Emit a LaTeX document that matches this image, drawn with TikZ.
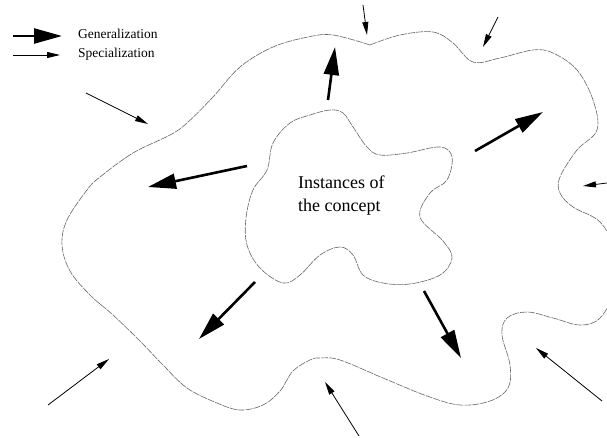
\documentclass[tikz,border=0pt]{standalone}
\usepackage{fontspec}
\setmainfont{Liberation Serif}
\usetikzlibrary{arrows.meta}
\tikzset{
  genarrow/.style={line width=2.6pt, -{Triangle[length=28pt,width=15pt]}},
  specarrow/.style={line width=0.8pt, -{Triangle[length=13pt,width=6pt]}},
  blob/.style={draw=black!60, line width=0.6pt, dash pattern=on 7pt off 1pt},
  legendtext/.style={anchor=west, font=\fontsize{13.5}{15}\selectfont, inner sep=0pt},
}
\begin{document}
\begin{tikzpicture}[x=1pt,y=-1pt]
\useasboundingbox (0,0) rectangle (607,438);
\clip (0,0) rectangle (607,438);
% outer region
\draw[blob] plot[smooth, tension=0.6] coordinates {
(370,45) (400,35) (433,32) (453,43) (473,62) (500,58) (533,50) (553,53)
(577,70) (593,100) (597,130) (577,150) (560,177) (560,193) (573,207)
(600,222) (614,250) (614,290) (600,318) (580,325) (553,318) (527,312)
(507,318) (502,335) (510,365) (508,388) (490,401) (460,405) (427,396)
(383,378) (340,360) (320,358) (310,360) (293,371) (280,391) (263,405)
(240,410) (217,403) (187,388) (163,365) (140,341) (113,315) (90,295)
(70,271) (62,245) (67,220) (87,190) (100,177) (133,153) (170,135)
(187,123) (213,97) (240,67) (273,47) (308,37) (333,35) (370,45)};
% inner region
\draw[blob] plot[smooth cycle, tension=0.6] coordinates {
(330,110) (343,113) (353,127) (367,147) (380,155) (407,153) (440,147)
(452,157) (447,180) (430,193) (420,217) (443,241) (452,258) (440,275)
(410,284) (383,283) (363,275) (353,255) (340,247) (320,255) (300,275)
(283,283) (260,268) (247,245) (246,218) (253,190) (267,170) (273,143)
(290,123) (310,115)};
\node[anchor=west, align=left, inner sep=0pt, font=\fontsize{18}{23}\selectfont] (txt) at (298,196) {Instances of\\the concept};
% legend
\coordinate (lg1) at (13,36); \coordinate (lg2) at (62,36);
\coordinate (ls1) at (13,55); \coordinate (ls2) at (60,55);
\draw[genarrow] (lg1) -- (lg2);
\draw[specarrow] (ls1) -- (ls2);
\node[legendtext] (lgt) at (78,34) {Generalization};
\node[legendtext] (lst) at (78,54) {Specialization};
% generalization arrows
\coordinate (g1a) at (328,100); \coordinate (g1b) at (335,47);
\coordinate (g2a) at (247,166); \coordinate (g2b) at (148,187);
\coordinate (g3a) at (475,151); \coordinate (g3b) at (543,112);
\coordinate (g4a) at (255,282); \coordinate (g4b) at (199,339);
\coordinate (g5a) at (424,291); \coordinate (g5b) at (461,358);
\draw[genarrow] (g1a) -- (g1b);
\draw[genarrow] (g2a) -- (g2b);
\draw[genarrow] (g3a) -- (g3b);
\draw[genarrow] (g4a) -- (g4b);
\draw[genarrow] (g5a) -- (g5b);
% specialization arrows
\coordinate (s1a) at (363,5); \coordinate (s1b) at (367,35);
\coordinate (s2a) at (498,17); \coordinate (s2b) at (483,47);
\coordinate (s3a) at (86,93); \coordinate (s3b) at (148,124);
\coordinate (s4a) at (607,183); \coordinate (s4b) at (583,186);
\coordinate (s5a) at (48,405); \coordinate (s5b) at (109,359);
\coordinate (s6a) at (359,436); \coordinate (s6b) at (325,382);
\coordinate (s7a) at (602,401); \coordinate (s7b) at (536,348);
\draw[specarrow] (s1a) -- (s1b);
\draw[specarrow] (s2a) -- (s2b);
\draw[specarrow] (s3a) -- (s3b);
\draw[specarrow] (s4a) -- (s4b);
\draw[specarrow] (s5a) -- (s5b);
\draw[specarrow] (s6a) -- (s6b);
\draw[specarrow] (s7a) -- (s7b);
\end{tikzpicture}
\end{document}
